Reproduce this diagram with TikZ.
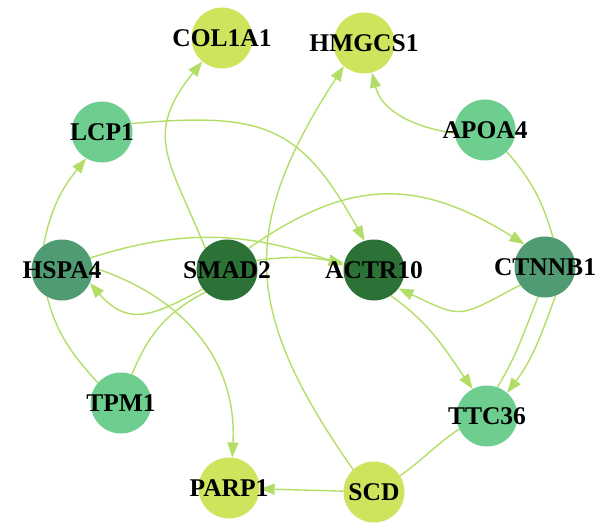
\documentclass[tikz,border=0pt]{standalone}
\usepackage{fontspec}
\setmainfont{Liberation Serif}
\usetikzlibrary{arrows.meta,backgrounds}

\definecolor{genelime}{RGB}{207,227,92}
\definecolor{genemint}{RGB}{109,206,143}
\definecolor{genesea}{RGB}{80,155,113}
\definecolor{geneforest}{RGB}{44,114,54}
\definecolor{edgegreen}{RGB}{178,222,104}

\newcommand{\gname}[1]{\makebox[0pt]{#1}}

\begin{document}
\begin{tikzpicture}[x=1pt, y=1pt, >={Triangle[length=15pt,width=11pt]}]

    \tikzstyle{gene} = [circle, minimum size=61pt, inner sep=0pt, font=\fontsize{25.5}{30}\selectfont\bfseries]
    \tikzstyle{link} = [color=edgegreen, line width=1.4pt]

    \useasboundingbox (0,0) rectangle (613,-524);

    \node (col)  [gene, fill=genelime]   at (222,-38)  {\gname{COL1A1}};
    \node (hmg)  [gene, fill=genelime]   at (364,-43)  {\gname{HMGCS1}};
    \node (lcp)  [gene, fill=genemint]   at (102,-132) {\gname{LCP1}};
    \node (apo)  [gene, fill=genemint]   at (485,-130) {\gname{APOA4}};

    \node (hsp)  [gene, fill=genesea]    at (62,-270)  {\gname{HSPA4}};
    \node (smad) [gene, fill=geneforest] at (227,-270) {\gname{SMAD2}};
    \node (actr) [gene, fill=geneforest] at (374,-270) {\gname{ACTR10}};
    \node (ctn)  [gene, fill=genesea]    at (545,-267) {\gname{CTNNB1}};

    \node (tpm)  [gene, fill=genemint]   at (121,-403) {\gname{TPM1}};
    \node (ttc)  [gene, fill=genemint]   at (487,-416) {\gname{TTC36}};
    \node (parp) [gene, fill=genelime]   at (229,-488) {\gname{PARP1}};
    \node (scd)  [gene, fill=genelime]   at (374,-492) {\gname{SCD}};

    \begin{scope}[on background layer]
    \path[link, ->]  (smad.135)  edge[out=112, in=-129, looseness=1.3]   (col.-130);
    \path[link, ->]  (scd.133)   edge[out=125, in=-123, looseness=1.22]  (hmg.-131);
    \path[link, ->]  (apo.186)   edge[out=172, in=-76]                   (hmg.-75);
    \path[link, ->]  (lcp.16)    edge[out=5, in=119, looseness=1.3]      (actr.108);
    \path[link, ->]  (hsp.127)   edge[out=79, in=-129]                   (lcp.-121);
    \path[link, ->]  (hsp.23)    edge[out=18, in=161]                    (actr.171);
    \path[link, ->]  (smad.18)   edge[out=8, in=170]                     (actr.167);
    \path[link, ->]  (smad.45)   edge[out=35, in=148, looseness=1.15]    (ctn.132);
    \path[link]      (apo.-45)   edge[out=-49, in=106]                   (ctn.75);
    \path[link, ->]  (ctn.-144)  edge[out=-152, in=-25, looseness=1.5]   (actr.-37);
    \path[link, ->]  (actr.-57)  edge[out=-35, in=125]                   (ttc.118);
    \path[link]      (ctn.-103)  edge[out=-112, in=59]                   (ttc.70);
    \path[link, ->]  (ctn.-70)   edge[out=-110, in=53]                   (ttc.49);
    \path[link]      (scd.32)    edge[out=35, in=-146]                   (ttc.-155);
    \path[link, ->]  (scd)       edge                                    (parp);
    \path[link, ->]  (hsp.5)     edge[out=-18, in=87, looseness=1.05]    (parp.84);
    \path[link, ->]  (smad.-142) edge[out=-151, in=-49, looseness=1.3]   (hsp.-25);
    \path[link]      (smad.-134) edge[out=-153, in=68]                   (tpm.69);
    \path[link]      (hsp.-119)  edge[out=-75, in=132]                   (tpm.139);
    \end{scope}
\end{tikzpicture}
\end{document}
